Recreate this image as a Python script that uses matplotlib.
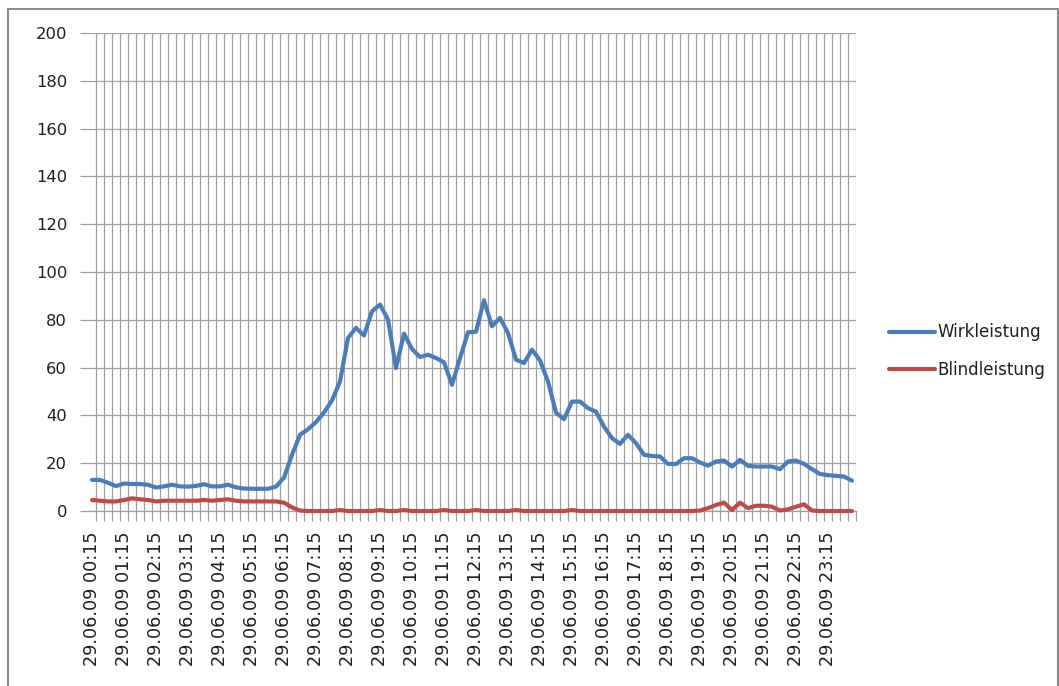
import matplotlib
matplotlib.use("Agg")
import matplotlib.pyplot as plt
from matplotlib.patches import Rectangle
import numpy as np

# 15-minute measurement slots of 29.06.09 (00:15 ... 24:00)
slots = [f"29.06.09 {((k + 1) * 15) // 60:02d}:{((k + 1) * 15) % 60:02d}" for k in range(96)]

wirkleistung = [
    13.0, 13.0, 11.8, 10.4, 11.5, 11.3, 11.3, 11.0, 9.8, 10.3, 11.0, 10.3,
    10.2, 10.5, 11.2, 10.3, 10.3, 11.0, 9.9, 9.4, 9.3, 9.3, 9.3, 10.2,
    14.0, 23.5, 31.9, 34.2, 37.2, 41.2, 46.3, 54.2, 72.4, 76.6, 73.4, 83.6,
    86.4, 80.1, 59.8, 74.2, 67.8, 64.4, 65.4, 64.0, 62.2, 52.8, 64.0, 74.8,
    75.0, 88.2, 77.3, 80.8, 74.5, 63.3, 61.9, 67.5, 63.0, 54.2, 41.2, 38.4,
    45.8, 45.8, 43.0, 41.6, 35.3, 30.5, 28.1, 31.9, 28.4, 23.5, 23.0, 22.8,
    19.7, 19.6, 22.1, 22.1, 20.3, 19.0, 20.7, 21.1, 18.6, 21.4, 18.9, 18.6,
    18.6, 18.6, 17.5, 20.7, 21.1, 19.7, 17.5, 15.5, 15.0, 14.7, 14.4, 12.7,
]

blindleistung = [
    4.6, 4.3, 4.0, 4.0, 4.6, 5.3, 4.9, 4.6, 4.0, 4.3, 4.3, 4.3,
    4.3, 4.3, 4.6, 4.3, 4.6, 4.9, 4.3, 4.0, 4.0, 4.0, 4.0, 4.0,
    3.5, 1.5, 0.2, 0.0, 0.0, 0.0, 0.0, 0.4, 0.0, 0.0, 0.0, 0.0,
    0.4, 0.0, 0.0, 0.4, 0.0, 0.0, 0.0, 0.0, 0.4, 0.0, 0.0, 0.0,
    0.4, 0.0, 0.0, 0.0, 0.0, 0.4, 0.0, 0.0, 0.0, 0.0, 0.0, 0.0,
    0.4, 0.0, 0.0, 0.0, 0.0, 0.0, 0.0, 0.0, 0.0, 0.0, 0.0, 0.0,
    0.0, 0.0, 0.0, 0.0, 0.2, 1.2, 2.5, 3.5, 0.4, 3.5, 1.2, 2.2,
    2.2, 1.8, 0.2, 0.7, 1.8, 2.8, 0.2, 0.0, 0.0, 0.0, 0.0, 0.0,
]

y_ticks = [0, 20, 40, 60, 80, 100, 120, 140, 160, 180, 200]
label_step = 4

BLUE = "#4a7ebb"
RED = "#be4b48"
GRID = "#a0a0a0"
TEXT = "#1e1e1e"

plt.rcParams["font.family"] = ["DejaVu Sans"]

W, H = 1059, 686
fig = plt.figure(figsize=(W / 100, H / 100), dpi=100)
fig.patch.set_facecolor("white")

left, right, top, bottom = 88, 856, 33, 511
ax = fig.add_axes([left / W, 1 - bottom / H, (right - left) / W, (bottom - top) / H])

x = np.arange(len(slots))
ax.plot(x, wirkleistung, color=BLUE, lw=3.0, solid_joinstyle="round",
        solid_capstyle="round", label="Wirkleistung", zorder=3, clip_on=False)
ax.plot(x, blindleistung, color=RED, lw=3.0, solid_joinstyle="round",
        solid_capstyle="round", label="Blindleistung", zorder=3, clip_on=False)

ax.set_xlim(-0.5, len(slots) - 0.5)
ax.set_ylim(0, 200)

# value axis
ax.set_yticks(y_ticks)
ax.set_yticklabels([str(v) for v in y_ticks], fontsize=11.8, color=TEXT)
ax.tick_params(axis="y", which="major", length=6, width=0.9, color=GRID, pad=9)
ax.yaxis.grid(True, color=GRID, lw=0.9)

# category axis: gridlines between categories, labels every hour
ax.set_xticks(x[::label_step])
ax.set_xticklabels(slots[::label_step], rotation=90, fontsize=12.7, color=TEXT)
ax.tick_params(axis="x", which="major", length=0, pad=15)
ax.set_xticks(np.arange(len(slots)) + 0.5, minor=True)
ax.tick_params(axis="x", which="minor", length=7, width=0.9, color=GRID)
ax.xaxis.grid(True, which="minor", color=GRID, lw=0.9)
ax.xaxis.grid(False, which="major")
ax.set_axisbelow(True)

for s in ("left", "right", "top"):
    ax.spines[s].set_visible(False)
ax.spines["bottom"].set_color(GRID)
ax.spines["bottom"].set_linewidth(0.9)

leg = fig.legend(loc="center left", bbox_to_anchor=(889 / W, 1 - 351 / H),
                 frameon=False, fontsize=12, handlelength=2.75, handletextpad=0.15,
                 labelspacing=1.15, borderpad=0, borderaxespad=0)
for t in leg.get_texts():
    t.set_color(TEXT)
for h in leg.legend_handles:
    h.set_linewidth(3.0)

# outer chart frame
fig.patches.append(Rectangle((8 / W, -0.02), (1058 - 8) / W, 1 - 9 / H + 0.02,
                             transform=fig.transFigure, fill=False,
                             edgecolor="#8c8c8c", lw=1.5))

fig.savefig("out.png", dpi=100)
